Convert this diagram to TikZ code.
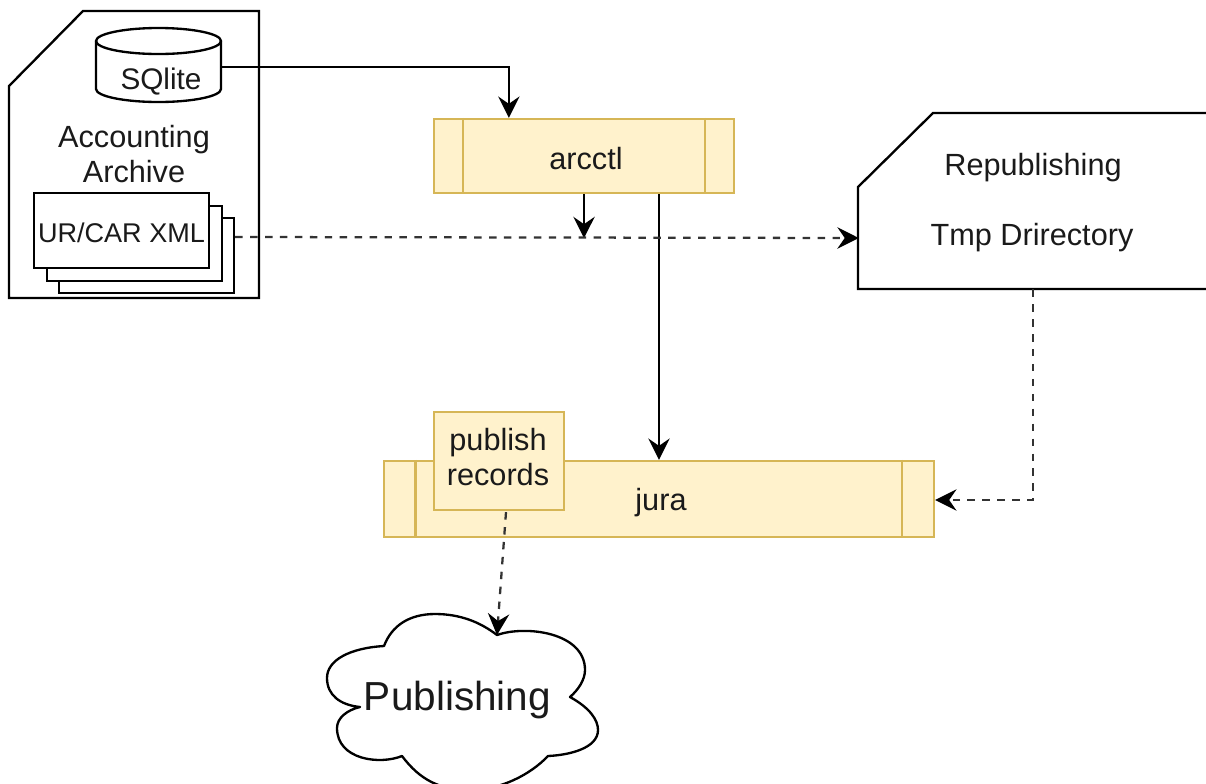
\documentclass[tikz,border=0pt]{standalone}
\usepackage{fontspec}
\setmainfont{Liberation Sans}
\usetikzlibrary{arrows.meta,calc}
\definecolor{ink}{HTML}{000000}
\definecolor{txt}{HTML}{1A1A1A}
\definecolor{yfill}{HTML}{FFF2CC}
\definecolor{yline}{HTML}{D6B656}
\tikzset{
  x=0.75pt,y=-0.75pt,
  outline/.style={draw=ink,line width=1.75pt,line join=miter},
  ybox/.style={rectangle,draw=yline,fill=yfill,line width=1.75pt,inner sep=0pt},
  docbox/.style={rectangle,draw=ink,fill=white,line width=1.75pt,inner sep=0pt,minimum width=131.25pt,minimum height=56.25pt},
  ghost/.style={rectangle,inner sep=0pt},
  lbl/.style={inner sep=0pt,text=txt,font=\fontsize{23}{26.25}\selectfont,align=center},
  solidarrow/.style={draw=ink,line width=1.6pt,-{Stealth[length=16pt,width=16pt,inset=5.5pt]}},
  dasharrow/.style={draw=ink!80,line width=1.7pt,dash pattern=on 5.6pt off 5.6pt,-{Stealth[length=16pt,width=16pt,inset=5.5pt,sep=0pt,color=ink]}}
}
\begin{document}
\begin{tikzpicture}
\useasboundingbox (0,0) rectangle (1206,783);
\clip (0,0) rectangle (1206,783);
% Accounting Archive folder
\draw[outline] (9,86) -- (83,11) -- (259,11) -- (259,298) -- (9,298) -- cycle;
\node[ghost,minimum width=187.5pt,minimum height=215pt] (archive) at (134,154.5) {};
\node[lbl] (archivelbl) at (134,154.5) {Accounting\\Archive};
% SQLite cylinder
\node[ghost,minimum width=93.75pt,minimum height=55.5pt] (sqlite) at (158.5,65) {};
\draw[outline,fill=white] (96,41) arc[start angle=180,end angle=360,x radius=62.5,y radius=13] -- (221,89)
  arc[start angle=0,end angle=180,x radius=62.5,y radius=13] -- cycle;
\draw[outline] (96,41) arc[start angle=180,end angle=0,x radius=62.5,y radius=13];
\node[lbl,font=\fontsize{22.3}{26}\selectfont] (sqlitelbl) at (161,82) {SQlite};
% stacked documents
\node[docbox] (doc3) at (146.5,255.5) {};
\node[docbox] (doc2) at (134.5,243.5) {};
\node[docbox] (doc1) at (121.5,230.5) {};
\node[inner sep=0pt,text=txt,font=\fontsize{20.3}{24}\selectfont] (doc1lbl) at (121.5,233) {UR/CAR XML};
% Republishing folder
\draw[outline] (1215,113) -- (933,113) -- (858,187) -- (858,289) -- (1215,289);
\node[ghost,minimum width=261pt,minimum height=132pt] (repub) at (1033,201) {};
\node[lbl] (repub1) at (1033,168) {Republishing};
\node[lbl] (repub2) at (1032,238) {Tmp Drirectory};
% arcctl
\node[ybox,minimum width=225pt,minimum height=55.5pt] (arcctl) at (584,156) {};
\draw[yline,line width=1.75pt] ($(arcctl.north west)+(30,0)$) -- ($(arcctl.south west)+(30,0)$);
\draw[yline,line width=1.75pt] ($(arcctl.north east)+(-30.5,0)$) -- ($(arcctl.south east)+(-30.5,0)$);
\node[lbl] (arcctllbl) at (586,159) {arcctl};
% jura
\node[ybox,minimum width=412.5pt,minimum height=57pt] (jura) at (659,499) {};
\draw[yline,line width=1.75pt] ($(jura.north west)+(32.5,0)$) -- ($(jura.south west)+(32.5,0)$);
\draw[yline,line width=1.75pt] ($(jura.north east)+(-33.5,0)$) -- ($(jura.south east)+(-33.5,0)$);
\node[lbl] (juralbl) at (661,503) {jura};
% publish records
\node[ybox,minimum width=97.5pt,minimum height=73.5pt] (publish) at (499,461) {};
\node[lbl] (publishlbl) at (498,457) {publish\\records};
% Publishing cloud
\draw[outline,fill=white,line join=round] (497,635)
  .. controls (525,625) and (585,632) .. (585,670)
  .. controls (585,680) and (578,690) .. (570,697)
  .. controls (590,708) and (598,720) .. (598,730)
  .. controls (598,748) and (570,755) .. (548,756)
  .. controls (530,775) and (500,790) .. (470,790)
  .. controls (440,790) and (420,780) .. (402,756)
  .. controls (380,765) and (337,760) .. (337,728)
  .. controls (337,718) and (347,710) .. (360,707)
  .. controls (340,705) and (327,695) .. (327,678)
  .. controls (327,660) and (350,648) .. (384,646)
  .. controls (392,625) and (410,614) .. (435,614)
  .. controls (460,614) and (480,622) .. (497,635) -- cycle;
\node[inner sep=0pt,text=txt,font=\fontsize{30.4}{34}\selectfont] (cloud) at (457.5,700) {Publishing};
% connector ports
\coordinate (sqout) at ($(sqlite.east)+(0,2)$);
\coordinate (arcin) at ($(arcctl.north west)+(76,0)$);
\coordinate (arcdown) at (arcctl.south);
\coordinate (dashmid) at ($(arcctl.south)+(0,44)$);
\coordinate (arcjura) at ($(arcctl.south)+(75,0)$);
\coordinate (docout) at ($(doc3.east)+(0,-18.5)$);
\coordinate (repin) at ($(repub.west)+(0,37)$);
\coordinate (repout) at (repub.south);
\coordinate (jurain) at ($(jura.east)+(0,1)$);
\coordinate (pubout) at ($(publish.south)+(7,1)$);
\coordinate (cloudin) at (497,635);
% connectors
\draw[solidarrow] (sqout) -| (arcin);
\draw[solidarrow] (arcdown) -- (dashmid);
\draw[solidarrow] (arcjura) -- (arcjura |- jura.north);
\draw[dasharrow] (docout) -- (repin);
\draw[dasharrow] (repout) |- (jurain);
\draw[dasharrow] (pubout) -- (cloudin);
\end{tikzpicture}
\end{document}
